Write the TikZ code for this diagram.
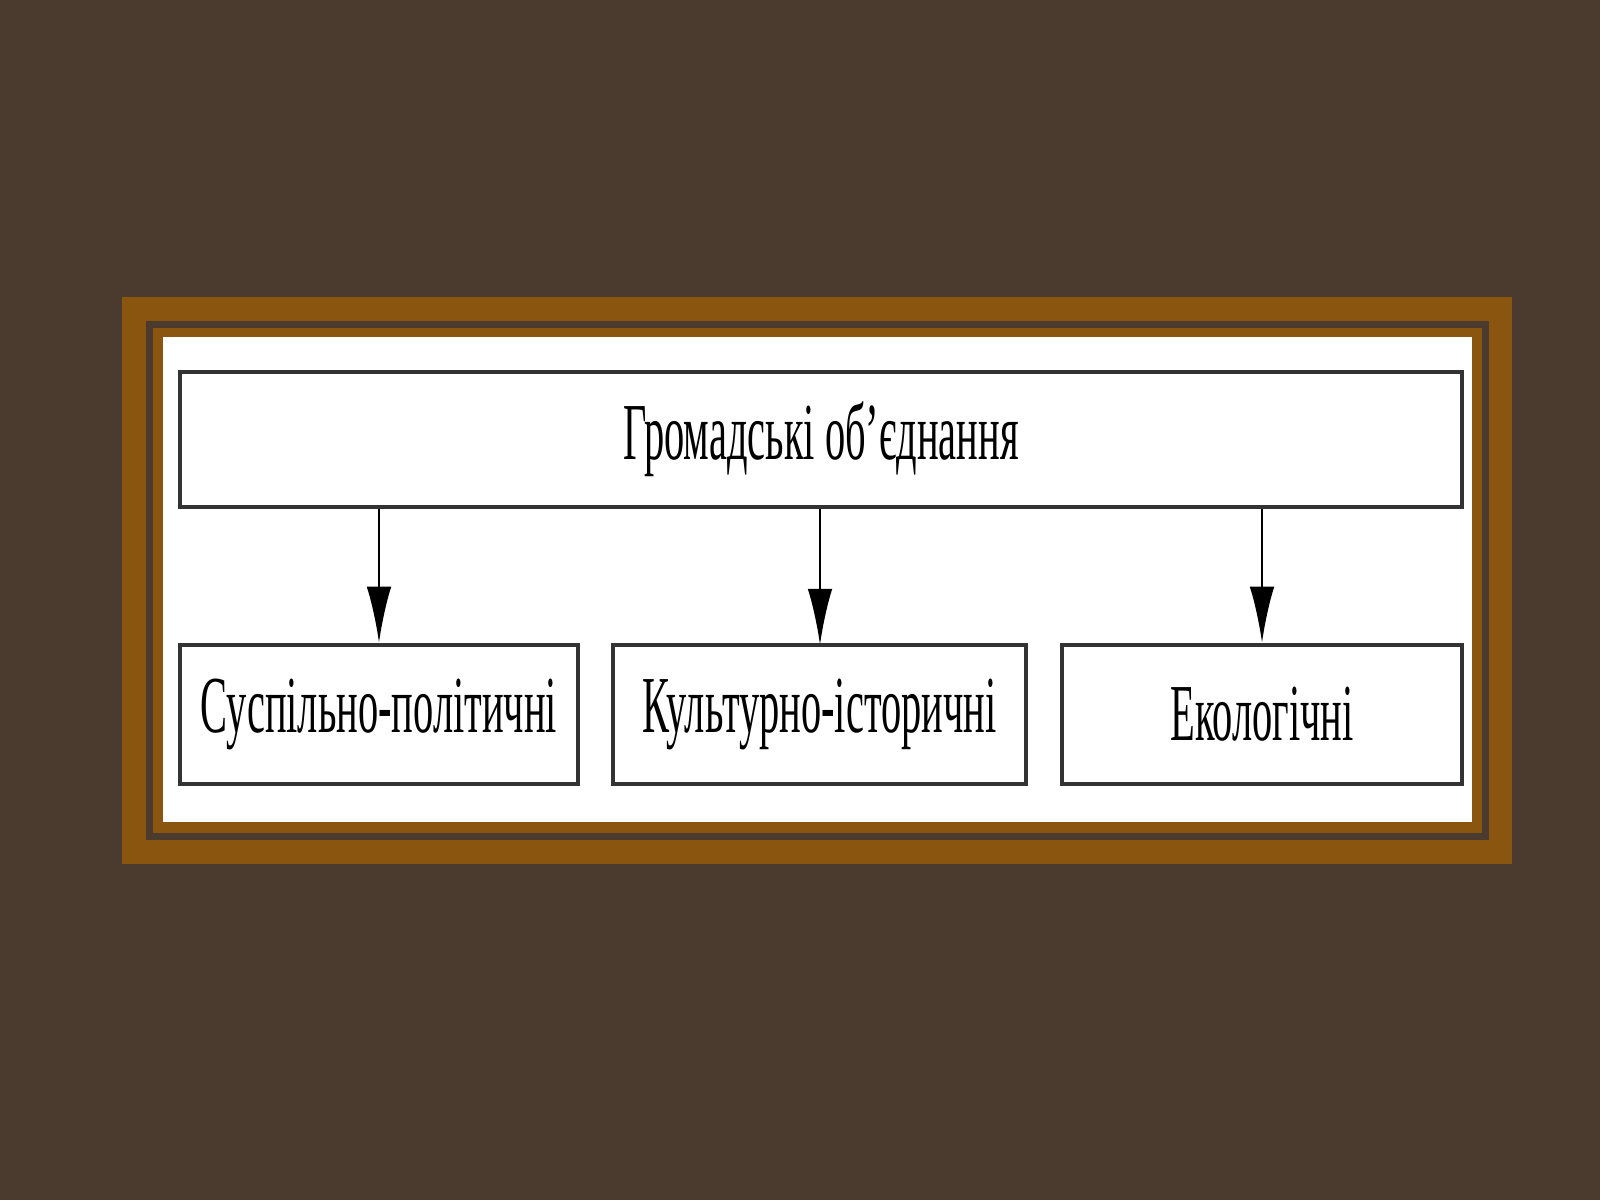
\documentclass[tikz,border=0pt]{standalone}
\usepackage{fontspec}
\setmainfont{Liberation Serif}
\usetikzlibrary{positioning, arrows.meta}
\definecolor{bgbrown}{HTML}{4B3B2F}
\definecolor{framebrown}{HTML}{8A550E}
\tikzset{
  orgbox/.style={draw=black!80, line width=1.2pt, fill=white, inner sep=0pt},
  orgtext/.style={font=\fontsize{23}{28}\selectfont},
  orgarrow/.style={-{Latex[length=16pt,width=7pt]}, line width=0.8pt}
}
\newcommand{\narrow}[1]{\scalebox{0.5}[1]{#1}}
\begin{document}
\begin{tikzpicture}
  % background and frame
  \fill[bgbrown] (0,0) rectangle (16,-12);
  \useasboundingbox (0,0) rectangle (16,-12);
  \fill[framebrown] (1.22,-2.97) rectangle (15.12,-8.64);
  \fill[bgbrown] (1.46,-3.21) rectangle (14.89,-8.40);
  \fill[framebrown] (1.53,-3.28) rectangle (14.82,-8.33);
  \fill[white] (1.63,-3.37) rectangle (14.72,-8.22);
  % boxes
  \node[orgbox, minimum width=12.82cm, minimum height=1.35cm] (top) at (8.21,-4.395) {};
  \node[orgtext] at (top.center) {\narrow{Громадські об’єднання}};
  \node[orgbox, minimum width=3.98cm, minimum height=1.39cm] (left) at (3.79,-7.145) {};
  \node[orgtext] at (left.center) {\narrow{Суспільно-політичні}};
  \node[orgbox, minimum width=4.13cm, minimum height=1.39cm] (mid) at (8.195,-7.145) {};
  \node[orgtext] at (mid.center) {\narrow{Культурно-історичні}};
  \node[orgbox, minimum width=4.00cm, minimum height=1.39cm] (right) at (12.62,-7.145) {};
  \node[orgtext] at (right.center) {\narrow{Екологічні}};
  % connectors
  \draw[orgarrow] (top.south -| left.center) -- (left.north);
  \draw[orgarrow] (top.south -| 8.20,0) -- (8.20,-6.45);
  \draw[orgarrow] (top.south -| right.center) -- (right.north);
\end{tikzpicture}
\end{document}
